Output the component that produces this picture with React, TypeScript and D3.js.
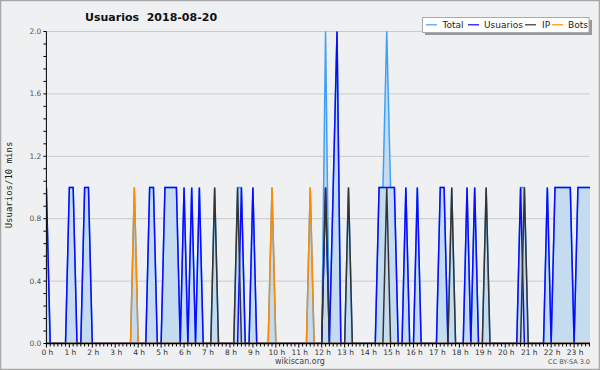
import React from "react";
import * as d3 from "d3";

const N = 144;
const usuariosPoints: [number, number][] = [
  [0, 1], [6, 1], [7, 1], [10, 1], [11, 1], [27, 1], [28, 1], [31, 1], [32, 1], [33, 1], [34, 1],
  [36, 1], [38, 1], [40, 1], [51, 1], [54, 1], [73, 1], [75, 1], [76, 2],
  [87, 1], [88, 1], [89, 1], [90, 1], [91, 1], [94, 1], [97, 1], [103, 1], [104, 1],
  [110, 1], [112, 1], [124, 1], [131, 1], [133, 1], [134, 1], [135, 1], [136, 1], [137, 1],
  [139, 1], [140, 1], [141, 1], [142, 1], [143, 1],
];
const ipPoints: [number, number][] = [
  [44, 1], [50, 1], [73, 1], [79, 1], [89, 1], [106, 1], [115, 1], [125, 1],
];
const botsPoints: [number, number][] = [[23, 1], [59, 1], [69, 1]];

function expand(points: [number, number][]): number[] {
  const arr = new Array(N).fill(0);
  points.forEach(([i, v]) => (arr[i] = v));
  return arr;
}
const usuarios = expand(usuariosPoints);
const ip = expand(ipPoints);
const bots = expand(botsPoints);
const total = usuarios.map((u, i) => u + ip[i] + bots[i]);

const hourLabels = d3.range(24).map((h) => `${h} h`);
const yTicks = [0, 0.4, 0.8, 1.2, 1.6, 2.0];
const legendItems = [
  { name: "Total", color: "#3fa0f5" },
  { name: "Usuarios", color: "#0a0aff" },
  { name: "IP", color: "#333333" },
  { name: "Bots", color: "#ff8c00" },
];

export default function App() {
  const W = 600, H = 370;
  const x0 = 46.4, step = 3.824, xEnd = 590;
  const x = d3.scaleLinear().domain([0, 143]).range([x0, x0 + 143 * step]);
  const y = d3.scaleLinear().domain([0, 2]).range([343.5, 31.5]);
  const idx = d3.range(N);
  const line = (arr: number[]) =>
    d3.line<number>().x((i) => x(i)).y((i) => y(arr[i]))(idx) || "";
  const area = d3.area<number>().x((i) => x(i)).y0(y(0)).y1((i) => y(total[i]))(idx) || "";
  const minorY = d3.range(0, 26).map((k) => k * 0.08);
  const xTickIdx = idx.filter((i) => x(i) <= xEnd + 0.5);
  const font = "DejaVu Sans, sans-serif";

  return (
    <svg width={W} height={H} style={{ position: "absolute", left: 0, top: 0 }} xmlns="http://www.w3.org/2000/svg">
      <defs>
        <clipPath id="plotclip">
          <rect x={x0} y={20} width={xEnd - x0} height={y(0) - 20} />
        </clipPath>
      </defs>
      <rect x={0.5} y={0.5} width={W - 1} height={H - 1} fill="#eff0f1" stroke="#a8a8a8" strokeWidth={1.5} />
      {yTicks.slice(1).map((t) => (
        <line key={t} x1={x0} x2={xEnd} y1={y(t)} y2={y(t)} stroke="#cacaca" strokeWidth={1} />
      ))}
      <g clipPath="url(#plotclip)">
        <path d={area} fill="#c4dbf0" />
        <path d={line(total)} fill="none" stroke={legendItems[0].color} strokeWidth={1.5} />
        <path d={line(usuarios)} fill="none" stroke={legendItems[1].color} strokeWidth={1.5} />
        <path d={line(ip)} fill="none" stroke={legendItems[2].color} strokeWidth={1.5} />
        <path d={line(bots)} fill="none" stroke={legendItems[3].color} strokeWidth={1.5} />
      </g>
      {/* y axis */}
      <line x1={x0} x2={x0} y1={y(2)} y2={y(0)} stroke="#000" strokeWidth={1} />
      {minorY.map((t) => (
        <line key={t} x1={x0 - 3} x2={x0} y1={y(t)} y2={y(t)} stroke="#000" strokeWidth={1} />
      ))}
      {yTicks.map((t) => (
        <text key={t} x={x0 - 5} y={y(t) + 2.5} fontSize={7.5} fontFamily={font} fill="#555" textAnchor="end">
          {t.toFixed(1)}
        </text>
      ))}
      {/* x axis */}
      <line x1={x0} x2={xEnd} y1={y(0)} y2={y(0)} stroke="#000" strokeWidth={1.5} />
      {xTickIdx.map((i) => (
        <line key={i} x1={x(i)} x2={x(i)} y1={y(0)} y2={y(0) + (i % 6 === 0 ? 4 : 3)} stroke="#000" strokeWidth={1} />
      ))}
      {hourLabels.map((lab, h) => (
        <text key={lab} x={x(h * 6) + 1} y={355} fontSize={7.5} fontFamily={font} fill="#333" textAnchor="middle">
          {lab}
        </text>
      ))}
      {/* titles */}
      <text x={85} y={21} fontSize={11} fontWeight="bold" fontFamily={font} fill="#111" style={{ whiteSpace: "pre" }}>
        {"Usuarios  2018-08-20"}
      </text>
      <text transform={`translate(12,185) rotate(-90)`} fontSize={9} fontFamily="DejaVu Sans Mono, monospace" fill="#222" textAnchor="middle">
        Usuarios/10 mins
      </text>
      <text x={300} y={364} fontSize={8} fontFamily={font} fill="#444" textAnchor="middle">wikiscan.org</text>
      <text x={590} y={364} fontSize={6.5} fontFamily={font} fill="#555" textAnchor="end">CC BY-SA 3.0</text>
      {/* legend */}
      <rect x={425} y={20} width={167} height={15} fill="#999" />
      <rect x={422.5} y={17.5} width={166.5} height={15} fill="#fff" stroke="#aaa" strokeWidth={1} />
      {legendItems.map((it, k) => {
        const lx = [426, 468, 525, 552][k];
        const tx = [442.5, 484, 542, 568][k];
        return (
          <g key={it.name}>
            <line x1={lx} x2={lx + 11} y1={24.8} y2={24.8} stroke={it.color} strokeWidth={1.2} />
            <text x={tx} y={28.3} fontSize={9} fontFamily={font} fill="#222">{it.name}</text>
          </g>
        );
      })}
    </svg>
  );
}
